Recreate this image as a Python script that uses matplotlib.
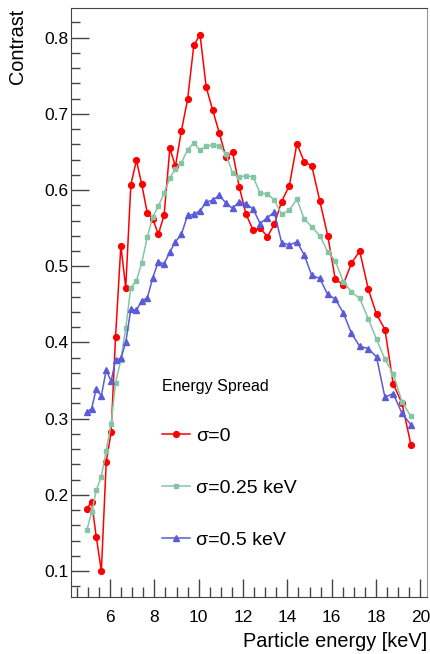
import matplotlib
matplotlib.use("Agg")
import matplotlib.pyplot as plt
from matplotlib.ticker import MultipleLocator

plt.rcParams['font.family'] = ['Liberation Sans', 'DejaVu Sans']

# particle energy [keV], same grid for the three spreads
energy = [4.96, 5.17, 5.38, 5.61, 5.83, 6.05, 6.25, 6.49, 6.71, 6.94,
          7.19, 7.43, 7.68, 7.93, 8.18, 8.44, 8.70, 8.95, 9.22, 9.50,
          9.78, 10.06, 10.34, 10.63, 10.93, 11.23, 11.53, 11.83, 12.14, 12.46,
          12.77, 13.10, 13.41, 13.74, 14.09, 14.43, 14.76, 15.10, 15.46, 15.82,
          16.16, 16.52, 16.89, 17.26, 17.65, 18.02, 18.40, 18.77, 19.17, 19.57]

# sigma = 0
contrast_0 = [0.182, 0.191, 0.145, 0.100, 0.243, 0.282, 0.407, 0.527, 0.472, 0.607,
              0.639, 0.608, 0.570, 0.562, 0.542, 0.567, 0.655, 0.631, 0.678, 0.719,
              0.790, 0.804, 0.735, 0.705, 0.675, 0.643, 0.650, 0.604, 0.568, 0.547,
              0.550, 0.539, 0.555, 0.585, 0.606, 0.661, 0.637, 0.632, 0.586, 0.540,
              0.483, 0.476, 0.504, 0.520, 0.470, 0.437, 0.417, 0.346, 0.320, 0.266]

# sigma = 0.25 keV
contrast_025 = [0.154, 0.177, 0.206, 0.224, 0.258, 0.293, 0.347, 0.377, 0.419, 0.472,
                0.481, 0.504, 0.538, 0.565, 0.579, 0.596, 0.616, 0.628, 0.636, 0.653,
                0.662, 0.652, 0.658, 0.659, 0.658, 0.647, 0.622, 0.617, 0.619, 0.617,
                0.596, 0.595, 0.587, 0.568, 0.574, 0.588, 0.562, 0.552, 0.540, 0.519,
                0.507, 0.480, 0.466, 0.458, 0.431, 0.404, 0.378, 0.359, 0.322, 0.303]

# sigma = 0.5 keV
contrast_05 = [0.309, 0.313, 0.339, 0.330, 0.364, 0.349, 0.377, 0.379, 0.400, 0.444,
               0.442, 0.455, 0.458, 0.485, 0.506, 0.503, 0.519, 0.532, 0.542, 0.567,
               0.568, 0.573, 0.584, 0.587, 0.593, 0.583, 0.576, 0.585, 0.582, 0.575,
               0.556, 0.564, 0.571, 0.531, 0.528, 0.532, 0.515, 0.488, 0.484, 0.463,
               0.457, 0.439, 0.412, 0.395, 0.392, 0.381, 0.328, 0.333, 0.307, 0.292]

labels = ['σ=0', 'σ=0.25 keV', 'σ=0.5 keV']

fig = plt.figure(figsize=(4.3, 6.54), dpi=100)
ax = fig.add_axes([0.1651, 0.0867, 0.8286, 0.9006])

ax.plot(energy, contrast_0, color='#ff0000', marker='o', ms=4.2, lw=1.1, label=labels[0])
ax.plot(energy, contrast_025, color='#86c5a4', marker='s', ms=2.7, lw=1.1, label=labels[1])
ax.plot(energy, contrast_05, color='#5b5bd9', marker='^', ms=3.8, lw=1.1, label=labels[2])

ax.set_xlim(4.241, 20.31)
ax.set_ylim(0.0655, 0.8386)

ax.xaxis.set_major_locator(MultipleLocator(2))
ax.xaxis.set_minor_locator(MultipleLocator(0.5))
ax.yaxis.set_major_locator(MultipleLocator(0.1))
ax.yaxis.set_minor_locator(MultipleLocator(0.02))
ax.set_xticks([6, 8, 10, 12, 14, 16, 18, 20])
ax.set_xticklabels(['6', '8', '10', '12', '14', '16', '18', '20'])

ax.tick_params(which='both', direction='in', top=False, right=False, colors='#444444')
ax.tick_params(axis='x', which='major', length=13, width=1, pad=9, labelsize=12.5, labelcolor='black')
ax.tick_params(axis='x', which='minor', length=7, width=1)
ax.tick_params(axis='y', which='major', length=13, width=1, pad=2, labelsize=12.5, labelcolor='black')
ax.tick_params(axis='y', which='minor', length=6.5, width=1)

for side in ['left', 'bottom', 'top']:
    ax.spines[side].set_color('#444444')
ax.spines['right'].set_color('#999999')

ax.set_xlabel('Particle energy [keV]', loc='right', fontsize=14.3, labelpad=5)
ax.set_ylabel('Contrast', loc='top', fontsize=14.3, labelpad=12)

leg = ax.legend(title='Energy Spread', loc='upper left', bbox_to_anchor=(0.256, 0.371),
                frameon=False, fontsize=14, title_fontsize=11.5, alignment='left',
                handlelength=1.45, handletextpad=0.3, labelspacing=1.78, borderpad=0,
                borderaxespad=0)
leg._legend_box.sep = 24

fig.savefig('out.png', dpi=100)
